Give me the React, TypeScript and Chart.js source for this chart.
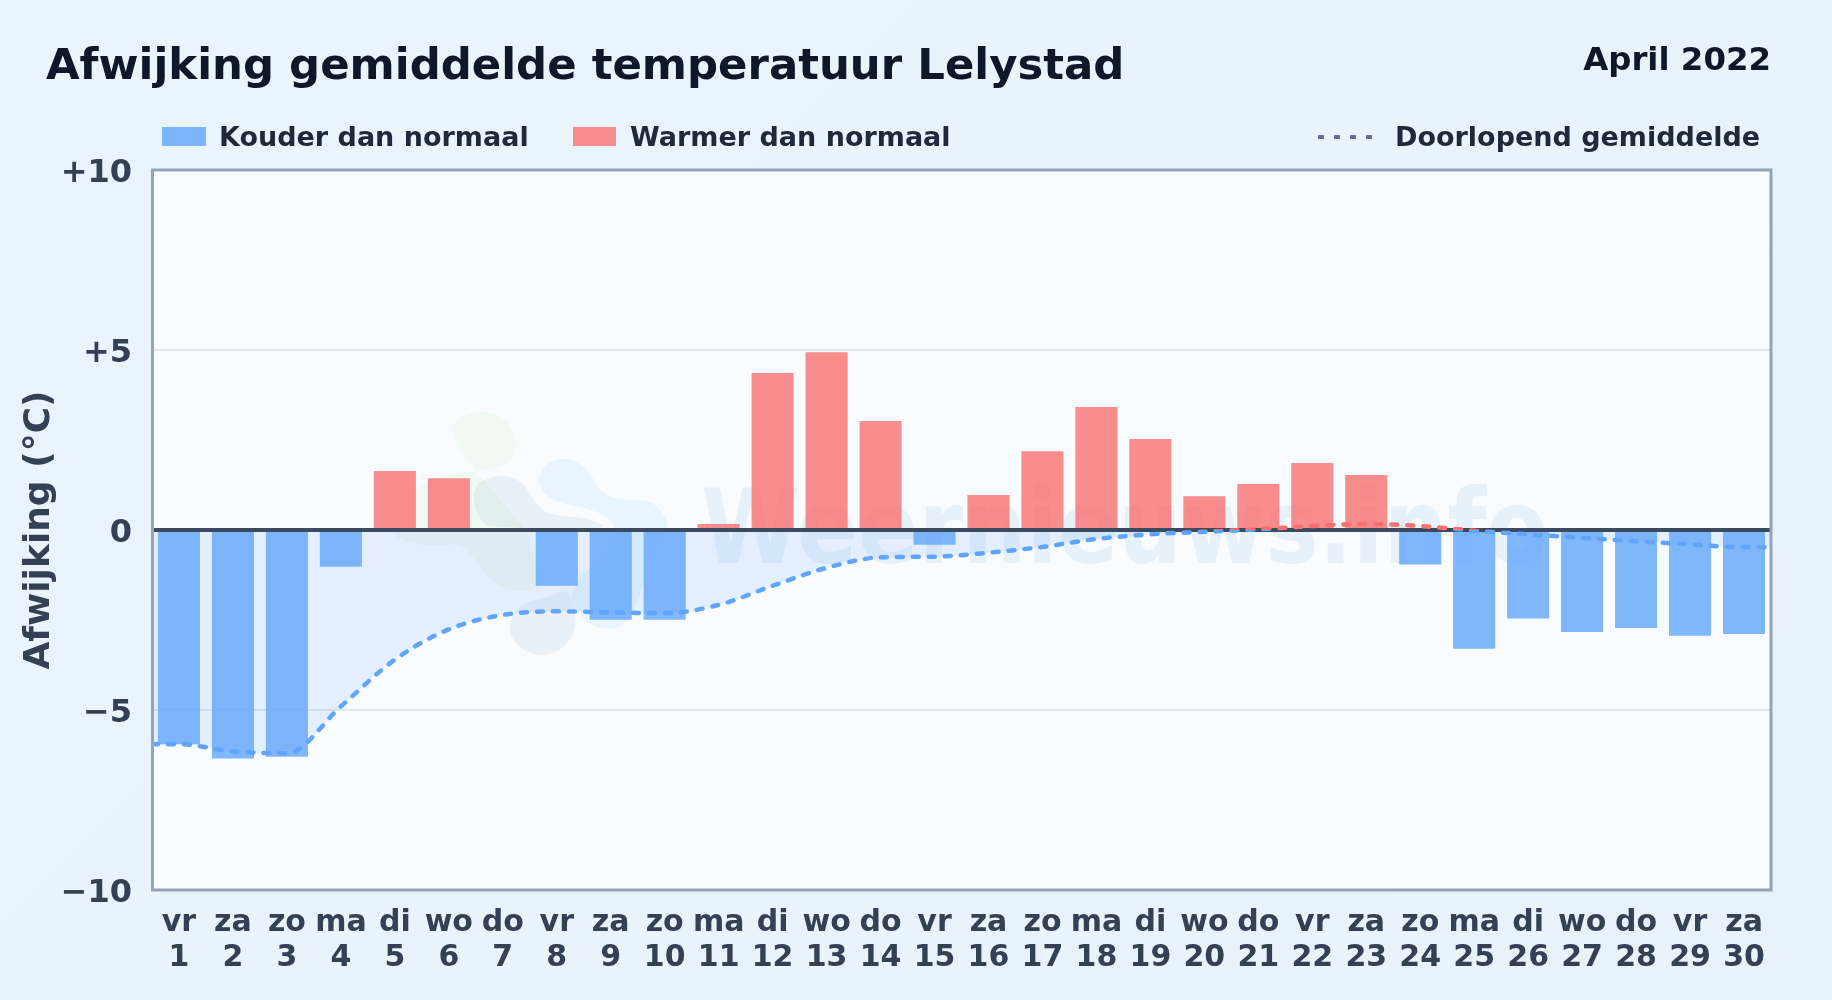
import React, { useEffect, useRef } from "react";
import { Chart, registerables } from "chart.js";

Chart.register(...registerables);

const weekdays = ["vr","za","zo","ma","di","wo","do","vr","za","zo","ma","di","wo","do","vr","za","zo","ma","di","wo","do","vr","za","zo","ma","di","wo","do","vr","za"];
const days = ["1","2","3","4","5","6","7","8","9","10","11","12","13","14","15","16","17","18","19","20","21","22","23","24","25","26","27","28","29","30"];
const anomaly = [-5.95,-6.35,-6.3,-1.02,1.64,1.44,0,-1.55,-2.49,-2.49,0.17,4.36,4.94,3.03,-0.41,0.97,2.19,3.42,2.53,0.94,1.28,1.86,1.53,-0.96,-3.3,-2.46,-2.83,-2.72,-2.94,-2.89];
const runningMean = [-5.95,-6.15,-6.2,-4.9,-3.6,-2.76,-2.36,-2.26,-2.29,-2.31,-2.08,-1.55,-1.05,-0.76,-0.74,-0.63,-0.47,-0.25,-0.12,-0.05,0.02,0.11,0.17,0.11,-0.02,-0.12,-0.22,-0.31,-0.4,-0.48];
const yTickLabels: Record<string, string> = { "10": "+10", "5": "+5", "0": "0", "-5": "\u22125", "-10": "\u221210" };

const BLUE = "#60a5fa";
const RED = "#f87171";
const FONT = "'DejaVu Sans', sans-serif";

const meanPoints = [
  { x: 0.5, y: runningMean[0] },
  ...runningMean.map((y, i) => ({ x: i + 1, y })),
  { x: 30.5, y: runningMean[runningMean.length - 1] },
];

// Faint logo shapes behind the plot, in page pixels
const blobs: { color: string; pts: number[][] }[] = [
  { color: "rgba(175,220,130,0.09)", pts: [[444,433],[465,412],[500,412],[520,440],[510,465],[477,472],[450,473],[413,487],[390,527],[397,540],[430,547],[460,543],[473,557],[487,577],[510,592],[537,590],[547,580],[533,557],[530,533],[500,500]] },
  { color: "rgba(100,145,190,0.10)", pts: [[470,487],[497,474],[522,480],[533,500],[547,515],[583,517],[610,527],[583,529],[537,529],[503,527],[480,525]] },
  { color: "rgba(100,145,190,0.10)", pts: [[507,627],[520,603],[550,597],[570,587],[578,627],[563,650],[540,657],[517,647]] },
  { color: "rgba(120,195,250,0.12)", pts: [[537,475],[550,460],[573,458],[590,473],[603,495],[623,500],[653,500],[670,523],[663,540],[650,557],[637,607],[623,627],[603,630],[583,620],[570,600],[577,577],[603,560],[617,533],[610,517],[583,507],[557,503],[540,490]] },
];

const backdrop = {
  id: "backdrop",
  beforeDraw(chart: any) {
    const { ctx, chartArea: a } = chart;
    ctx.save();
    ctx.fillStyle = "#f8fcff";
    ctx.fillRect(a.left, a.top, a.right - a.left, a.bottom - a.top);
    for (const b of blobs) {
      const n = b.pts.length;
      ctx.beginPath();
      const mid = (p: number[], q: number[]) => [(p[0] + q[0]) / 2, (p[1] + q[1]) / 2];
      const s = mid(b.pts[n - 1], b.pts[0]);
      ctx.moveTo(s[0], s[1]);
      for (let i = 0; i < n; i++) {
        const m = mid(b.pts[i], b.pts[(i + 1) % n]);
        ctx.quadraticCurveTo(b.pts[i][0], b.pts[i][1], m[0], m[1]);
      }
      ctx.closePath();
      ctx.fillStyle = b.color;
      ctx.fill();
    }
    ctx.font = `bold 103px ${FONT}`;
    ctx.fillStyle = "rgba(70,130,200,0.09)";
    ctx.textBaseline = "alphabetic";
    ctx.textAlign = "left";
    ctx.fillText("Weernieuws.info", 701, 563, 847);
    ctx.restore();
  },
  beforeDatasetDraw(chart: any, args: any) {
    if (args.index !== 2) return;
    const { ctx, chartArea: a, scales } = chart;
    const y0 = scales.y.getPixelForValue(0);
    ctx.save();
    ctx.strokeStyle = "#3b4a5e";
    ctx.lineWidth = 4;
    ctx.beginPath();
    ctx.moveTo(a.left, y0);
    ctx.lineTo(a.right, y0);
    ctx.stroke();
    ctx.restore();
  },
  afterDraw(chart: any) {
    const { ctx, chartArea: a } = chart;
    ctx.save();
    ctx.strokeStyle = "#94a3b8";
    ctx.lineWidth = 3;
    ctx.strokeRect(a.left + 0.5, a.top, a.right - a.left - 0.5, a.bottom - a.top);
    ctx.restore();
  },
};

function lineGradient(ctx: any) {
  const chart = ctx.chart;
  const y = chart.scales.y;
  const a = chart.chartArea;
  if (!y || !a || !Number.isFinite(a.top) || !Number.isFinite(y.top) || !(a.bottom > a.top)) return BLUE;
  const g = chart.ctx.createLinearGradient(0, a.top, 0, a.bottom);
  const z = Math.min(1, Math.max(0, (y.getPixelForValue(0) - a.top) / (a.bottom - a.top)));
  g.addColorStop(0, RED);
  g.addColorStop(z, RED);
  g.addColorStop(z, BLUE);
  g.addColorStop(1, BLUE);
  return g;
}

const abs = (left: number | undefined, top: number, font: number, color: string, right?: number): React.CSSProperties => ({
  position: "absolute",
  left,
  right,
  top,
  fontFamily: FONT,
  fontWeight: 700,
  fontSize: font,
  lineHeight: "40px",
  color,
  whiteSpace: "nowrap",
});

export default function App() {
  const ref = useRef<HTMLCanvasElement>(null);
  useEffect(() => {
    const chart = new Chart(ref.current!, {
      type: "bar",
      plugins: [backdrop],
      data: {
        labels: weekdays.map((w, i) => [w, days[i]]),
        datasets: [
          {
            label: "Kouder dan normaal",
            data: anomaly.map((v) => (v < 0 ? v : null)),
            backgroundColor: "rgba(96,165,250,0.8)",
            barPercentage: 0.78,
            categoryPercentage: 1,
            grouped: false,
            order: 2,
          },
          {
            label: "Warmer dan normaal",
            data: anomaly.map((v) => (v > 0 ? v : null)),
            backgroundColor: "rgba(248,113,113,0.8)",
            barPercentage: 0.78,
            categoryPercentage: 1,
            grouped: false,
            order: 2,
          },
          {
            type: "line",
            label: "Doorlopend gemiddelde",
            data: meanPoints,
            xAxisID: "x2",
            borderColor: lineGradient,
            borderWidth: 4.5,
            borderDash: [6, 10],
            borderCapStyle: "round",
            pointRadius: 0,
            cubicInterpolationMode: "monotone",
            fill: { target: { value: 0 }, above: "rgba(248,113,113,0.10)", below: "rgba(96,165,250,0.14)" },
            order: 1,
          },
        ] as any,
      },
      options: {
        responsive: false,
        animation: false,
        devicePixelRatio: 1,
        layout: { padding: { top: 170, right: 61, left: 0, bottom: 0 } },
        plugins: {
          legend: { display: false },
          title: { display: false },
          tooltip: { enabled: false },
          filler: { drawTime: "beforeDatasetsDraw" },
        },
        scales: {
          x: {
            type: "category",
            grid: { display: false },
            border: { display: false },
            ticks: {
              color: "#334155",
              font: { family: FONT, weight: "bold", size: 30, lineHeight: 1.15 },
              padding: 8,
              maxRotation: 0,
              minRotation: 0,
              autoSkip: false,
            },
            afterFit(s: any) { s.height = 110; },
          },
          x2: {
            type: "linear",
            min: 0.5,
            max: 30.5,
            offset: false,
            grid: { display: false },
            border: { display: false },
            ticks: { display: false },
            afterFit(s: any) { s.height = 0; },
          },
          y: {
            min: -10,
            max: 10,
            grid: {
              color: (c: any) => (c.tick && Math.abs(c.tick.value) === 5 ? "#e2e8ea" : "transparent"),
              lineWidth: 2,
              drawTicks: false,
            },
            border: { display: false },
            ticks: {
              stepSize: 5,
              color: "#334155",
              padding: 20,
              font: { family: FONT, weight: "bold", size: 32, lineHeight: "7px" },
              // An empty first line nudges the number down onto its gridline, as in the reference.
              callback: (v: any) => ["", yTickLabels[String(v)]],
            },
            title: {
              display: true,
              text: "Afwijking (°C)",
              color: "#334155",
              font: { family: FONT, weight: "bold", size: 36 },
              padding: { top: 18, bottom: 0 },
            },
            afterFit(s: any) { s.width = 152; },
          },
        },
      } as any,
    });
    return () => chart.destroy();
  }, []);

  return (
    <div style={{ position: "fixed", left: 0, top: 0, width: 1832, height: 1000, overflow: "hidden", background: "linear-gradient(135deg,#eaf4fd 0%,#e8f2fb 100%)" }}>
      <canvas ref={ref} width={1832} height={1000} style={{ position: "absolute", left: 0, top: 0, display: "block" }} />
      <div style={abs(46, 44, 43.4, "#0f172a")}>Afwijking gemiddelde temperatuur Lelystad</div>
      <div style={abs(undefined, 39, 32.4, "#0f172a", 61)}>April 2022</div>
      <div style={{ position: "absolute", left: 162, top: 127, width: 44, height: 19, background: "rgba(96,165,250,0.8)" }} />
      <div style={abs(219, 117, 27, "#1e293b")}>Kouder dan normaal</div>
      <div style={{ position: "absolute", left: 573, top: 127, width: 43, height: 19, background: "rgba(248,113,113,0.8)" }} />
      <div style={abs(630, 117, 27, "#1e293b")}>Warmer dan normaal</div>
      <svg style={{ position: "absolute", left: 1316, top: 130 }} width={60} height={14}>
        <line x1={2} y1={7} x2={58} y2={7} stroke="#64748b" strokeWidth={4} strokeDasharray="6 10" />
      </svg>
      <div style={abs(1395, 117, 27, "#1e293b")}>Doorlopend gemiddelde</div>
    </div>
  );
}
